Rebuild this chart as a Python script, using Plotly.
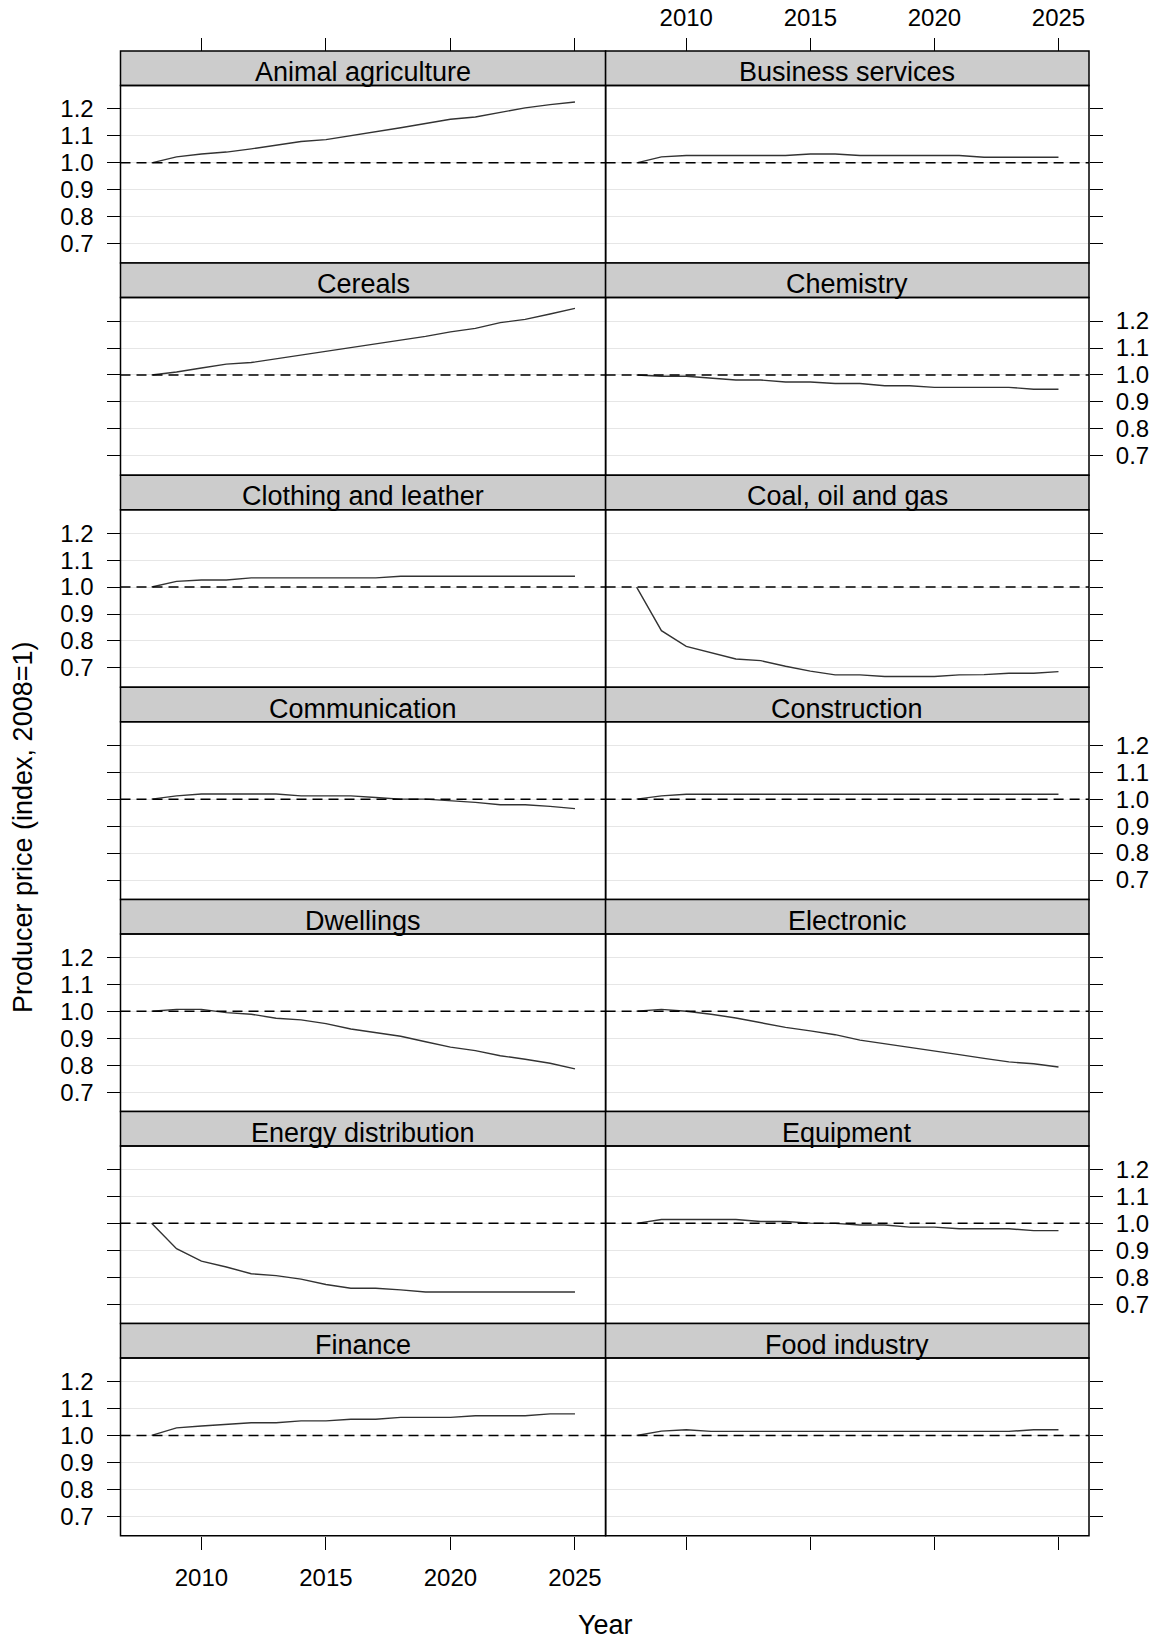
import plotly.graph_objects as go

# years and producer price index per sector (2008 = 1)
years = [2008, 2009, 2010, 2011, 2012, 2013, 2014, 2015, 2016,
         2017, 2018, 2019, 2020, 2021, 2022, 2023, 2024, 2025]

animal_agriculture = [1.000, 1.022, 1.033, 1.040, 1.052, 1.065, 1.079, 1.086, 1.100,
                      1.116, 1.130, 1.146, 1.162, 1.170, 1.188, 1.204, 1.216, 1.226]
business_services = [1.000, 1.022, 1.027, 1.027, 1.027, 1.027, 1.027, 1.033, 1.033,
                     1.027, 1.027, 1.027, 1.027, 1.027, 1.021, 1.021, 1.021, 1.021]
cereals = [1.000, 1.011, 1.026, 1.040, 1.046, 1.060, 1.073, 1.087, 1.102,
           1.117, 1.130, 1.143, 1.160, 1.173, 1.194, 1.206, 1.226, 1.247]
chemistry = [1.000, 0.995, 0.995, 0.988, 0.981, 0.981, 0.974, 0.974, 0.968,
             0.968, 0.960, 0.960, 0.954, 0.954, 0.954, 0.954, 0.947, 0.947]
clothing_leather = [1.000, 1.021, 1.026, 1.026, 1.034, 1.034, 1.034, 1.034, 1.034,
                    1.034, 1.040, 1.040, 1.040, 1.040, 1.040, 1.040, 1.040, 1.040]
coal_oil_gas = [1.000, 0.838, 0.780, 0.756, 0.733, 0.727, 0.706, 0.688, 0.674,
                0.674, 0.668, 0.668, 0.668, 0.674, 0.675, 0.680, 0.680, 0.686]
communication = [1.000, 1.012, 1.019, 1.019, 1.019, 1.019, 1.012, 1.012, 1.012,
                 1.006, 1.000, 1.000, 0.994, 0.988, 0.979, 0.979, 0.973, 0.965]
construction = [1.000, 1.012, 1.018, 1.018, 1.018, 1.018, 1.018, 1.018, 1.018,
                1.018, 1.018, 1.018, 1.018, 1.018, 1.018, 1.018, 1.018, 1.018]
dwellings = [1.000, 1.007, 1.007, 0.995, 0.989, 0.974, 0.968, 0.954, 0.934,
             0.921, 0.907, 0.887, 0.867, 0.854, 0.835, 0.822, 0.807, 0.786]
electronic = [1.000, 1.007, 1.000, 0.989, 0.975, 0.957, 0.940, 0.927, 0.913,
              0.893, 0.880, 0.866, 0.853, 0.839, 0.825, 0.812, 0.805, 0.793]
energy_distribution = [1.000, 0.906, 0.860, 0.838, 0.813, 0.806, 0.793, 0.773, 0.759,
                       0.759, 0.753, 0.745, 0.745, 0.745, 0.745, 0.745, 0.745, 0.745]
equipment = [1.000, 1.014, 1.014, 1.014, 1.014, 1.007, 1.007, 1.001, 1.000,
             0.994, 0.994, 0.986, 0.986, 0.980, 0.980, 0.980, 0.973, 0.973]
finance = [1.000, 1.028, 1.035, 1.041, 1.047, 1.047, 1.054, 1.054, 1.060,
           1.060, 1.067, 1.067, 1.067, 1.073, 1.073, 1.073, 1.080, 1.080]
food_industry = [1.000, 1.016, 1.021, 1.015, 1.015, 1.015, 1.015, 1.015, 1.015,
                 1.015, 1.015, 1.015, 1.015, 1.015, 1.015, 1.015, 1.021, 1.021]

sector_names = ["Animal agriculture", "Business services", "Cereals", "Chemistry",
                "Clothing and leather", "Coal, oil and gas", "Communication", "Construction",
                "Dwellings", "Electronic", "Energy distribution", "Equipment",
                "Finance", "Food industry"]
sector_values = [animal_agriculture, business_services, cereals, chemistry,
                 clothing_leather, coal_oil_gas, communication, construction,
                 dwellings, electronic, energy_distribution, equipment,
                 finance, food_industry]

x_ticks = [2010, 2015, 2020, 2025]
y_ticks = [0.7, 0.8, 0.9, 1.0, 1.1, 1.2]

# page geometry in pixels
W, H = 1156, 1641
FONT = "Liberation Sans, Arial, Helvetica, sans-serif"
L, M, R = 120.5, 605.6, 1089.0
TOP, BOTTOM = 51.0, 1535.7
ROW_H = (BOTTOM - TOP) / 7
STRIP_H = 34.5


def fx(p):
    return p / W


def fy(p):
    return 1 - p / H


fig = go.Figure()
shapes = []
annotations = []

for i, (name, vals) in enumerate(zip(sector_names, sector_values)):
    r, c = i // 2, i % 2
    x0, x1 = (L, M) if c == 0 else (M, R)
    top = TOP + r * ROW_H
    strip_bot = top + STRIP_H
    bot = top + ROW_H
    n = "" if i == 0 else str(i + 1)

    fig.add_trace(go.Scatter(x=years, y=vals, mode="lines", xaxis="x" + n, yaxis="y" + n,
                             line=dict(color="#333333", width=1.4), showlegend=False,
                             hoverinfo="x+y"))

    xa = dict(domain=[fx(x0), fx(x1)], range=[2006.75, 2026.23], tickvals=x_ticks,
              showgrid=False, zeroline=False, showline=False, ticklen=13, tickwidth=1.3,
              tickcolor="black", tickfont=dict(size=24, color="black", family=FONT))
    if r == 0:
        xa.update(side="top", anchor="free", position=fy(top), ticks="outside",
                  showticklabels=(c == 1), ticklabelstandoff=2)
    elif r == 6:
        xa.update(side="bottom", anchor="y" + n, ticks="outside",
                  showticklabels=(c == 0), ticklabelstandoff=7)
    else:
        xa.update(anchor="y" + n, ticks="", showticklabels=False)

    ya = dict(domain=[fy(bot), fy(strip_bot)], range=[0.628, 1.287], tickvals=y_ticks,
              tickformat=".1f", showgrid=True, gridcolor="#e6e6e6", gridwidth=1.2,
              zeroline=False, showline=False, ticks="outside", ticklen=13, tickwidth=1.3,
              tickcolor="black", anchor="x" + n, side="left" if c == 0 else "right",
              showticklabels=(r % 2 == 0) if c == 0 else (r % 2 == 1),
              ticklabelstandoff=8, tickfont=dict(size=24, color="black", family=FONT))

    fig.layout["xaxis" + n] = xa
    fig.layout["yaxis" + n] = ya

    # reference line at 1
    shapes.append(dict(type="line", xref="x" + n + " domain", yref="y" + n,
                       x0=0, x1=1, y0=1, y1=1,
                       line=dict(color="black", width=1.5, dash="10px,6px")))
    # strip
    shapes.append(dict(type="rect", xref="paper", yref="paper",
                       x0=fx(x0), x1=fx(x1), y0=fy(strip_bot), y1=fy(top),
                       fillcolor="#cccccc", line=dict(color="black", width=1.5)))
    # panel frame
    shapes.append(dict(type="rect", xref="paper", yref="paper",
                       x0=fx(x0), x1=fx(x1), y0=fy(bot), y1=fy(strip_bot),
                       line=dict(color="black", width=1.5)))
    annotations.append(dict(text=name, xref="paper", yref="paper",
                            x=fx((x0 + x1) / 2), y=fy(top + STRIP_H / 2 + 4),
                            showarrow=False, xanchor="center", yanchor="middle",
                            font=dict(size=27, color="black", family=FONT)))

annotations.append(dict(text="Year", xref="paper", yref="paper", x=fx(605.7), y=fy(1625),
                        showarrow=False, xanchor="center", yanchor="middle",
                        font=dict(size=27, color="black", family=FONT)))
annotations.append(dict(text="Producer price (index, 2008=1)", xref="paper", yref="paper",
                        x=fx(23), y=fy(828), textangle=-90, showarrow=False,
                        xanchor="center", yanchor="middle",
                        font=dict(size=27, color="black", family=FONT)))

fig.update_layout(width=W, height=H, margin=dict(l=0, r=0, t=0, b=0, autoexpand=False),
                  paper_bgcolor="white", plot_bgcolor="white",
                  shapes=shapes, annotations=annotations,
                  font=dict(family=FONT, color="black"))

# drop the default page margin so the figure sits at the window's top-left corner
fig.write_html("out.html", config={"displayModeBar": False},
               post_script="document.body.style.margin='0';")
